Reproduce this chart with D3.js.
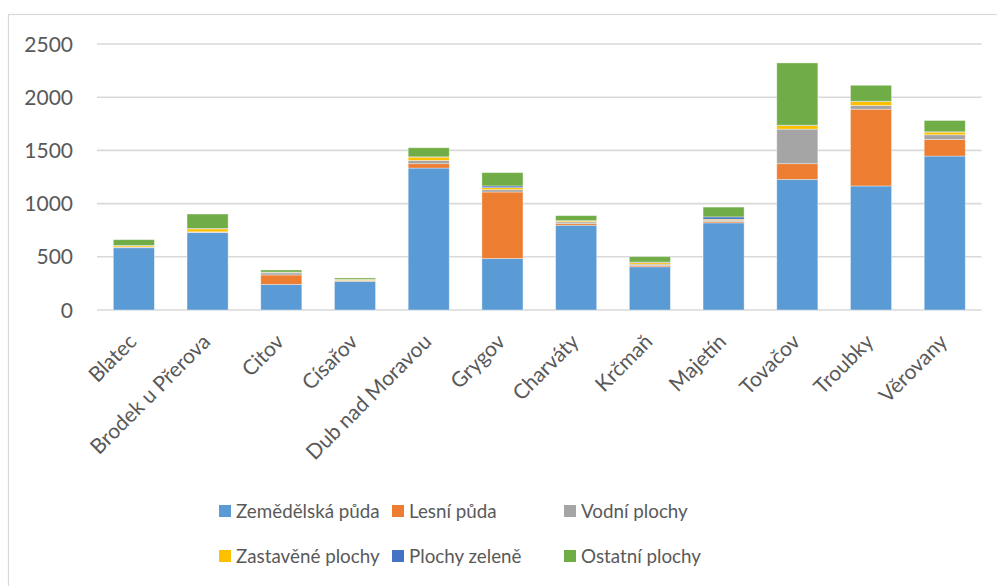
<!DOCTYPE html>
<html><head><meta charset="utf-8">
<script src="https://cdn.jsdelivr.net/npm/d3@7"></script>
<style>body{margin:0;background:#fff}svg{display:block}text{font-family:Lato,"Open Sans",sans-serif;fill:#595959}</style>
</head><body><svg id="c" width="997" height="586"></svg>
<script>
const categories=["Blatec","Brodek u Přerova","Citov","Císařov","Dub nad Moravou","Grygov","Charváty","Krčmaň","Majetín","Tovačov","Troubky","Věrovany"];
const seriesNames=["Zemědělská půda","Lesní půda","Vodní plochy","Zastavěné plochy","Plochy zeleně","Ostatní plochy"];
const zemedelska=[585,727,241,270,1334,484,797,406,819,1228,1166,1447];
const lesni=[3,3,88,4,41,625,15,12,12,147,721,156];
const vodni=[5,5,20,5,31,22,16,13,13,325,35,44];
const zastavene=[12,28,5,8,31,19,9,15,9,34,37,25];
const zelene=[2,4,2,1,3,16,3,5,22,3,3,3];
const ostatni=[54,135,20,13,85,125,47,50,92,585,150,106];
const yTicks=[0,500,1000,1500,2000,2500];
const colors=["#5B9BD5","#ED7D31","#A5A5A5","#FFC000","#4472C4","#70AD47"];

const svg=d3.select("#c");
svg.append("rect").attr("x",8.5).attr("y",14.5).attr("width",1000).attr("height",600).attr("fill","#fff").attr("stroke","#D9D9D9").attr("stroke-width",1.2);
const pLeft=97,pRight=981.6,pTop=44,pBottom=310;
const x=d3.scaleBand().domain(categories).range([pLeft,pRight]).paddingInner(0.443).paddingOuter(0.2215);
const y=d3.scaleLinear().domain([0,2500]).range([pBottom,pTop]);
const g=svg.append("g");
g.selectAll("line.grid").data(yTicks).join("line").attr("x1",pLeft).attr("x2",pRight)
 .attr("y1",d=>y(d)).attr("y2",d=>y(d)).attr("stroke","#D9D9D9").attr("stroke-width",1.6);
g.selectAll("text.yl").data(yTicks).join("text").attr("x",73).attr("y",d=>y(d)).attr("dy","0.36em")
 .attr("text-anchor","end").attr("font-size",21).text(d=>d);
const table=categories.map((c,i)=>({cat:c,v:[zemedelska[i],lesni[i],vodni[i],zastavene[i],zelene[i],ostatni[i]]}));
const stack=d3.stack().keys([0,1,2,3,4,5]).value((d,k)=>d.v[k])(table);
stack.forEach((layer,k)=>{
  g.append("g").selectAll("rect").data(layer).join("rect")
   .attr("x",d=>x(d.data.cat)).attr("width",x.bandwidth())
   .attr("y",d=>y(d[1])).attr("height",d=>y(d[0])-y(d[1]))
   .attr("fill",colors[k]).attr("stroke","#fff").attr("stroke-opacity",0.45).attr("stroke-width",0.8);
});
g.selectAll("text.xl").data(categories).join("text")
 .attr("transform",d=>`translate(${x(d)+x.bandwidth()/2+4},${343}) rotate(-45)`)
 .attr("text-anchor","end").attr("font-size",21).text(d=>d);
const legendPos=[[219,511],[392,511],[564,511],[219,556],[392,556],[564,556]];
const lg=svg.append("g");
seriesNames.forEach((n,i)=>{
  const [lx,ly]=legendPos[i];
  lg.append("rect").attr("x",lx).attr("y",ly-6).attr("width",12).attr("height",12).attr("fill",colors[i]);
  lg.append("text").attr("x",lx+17).attr("y",ly).attr("dy","0.36em").attr("font-size",18.8).text(n);
});
</script></body></html>
